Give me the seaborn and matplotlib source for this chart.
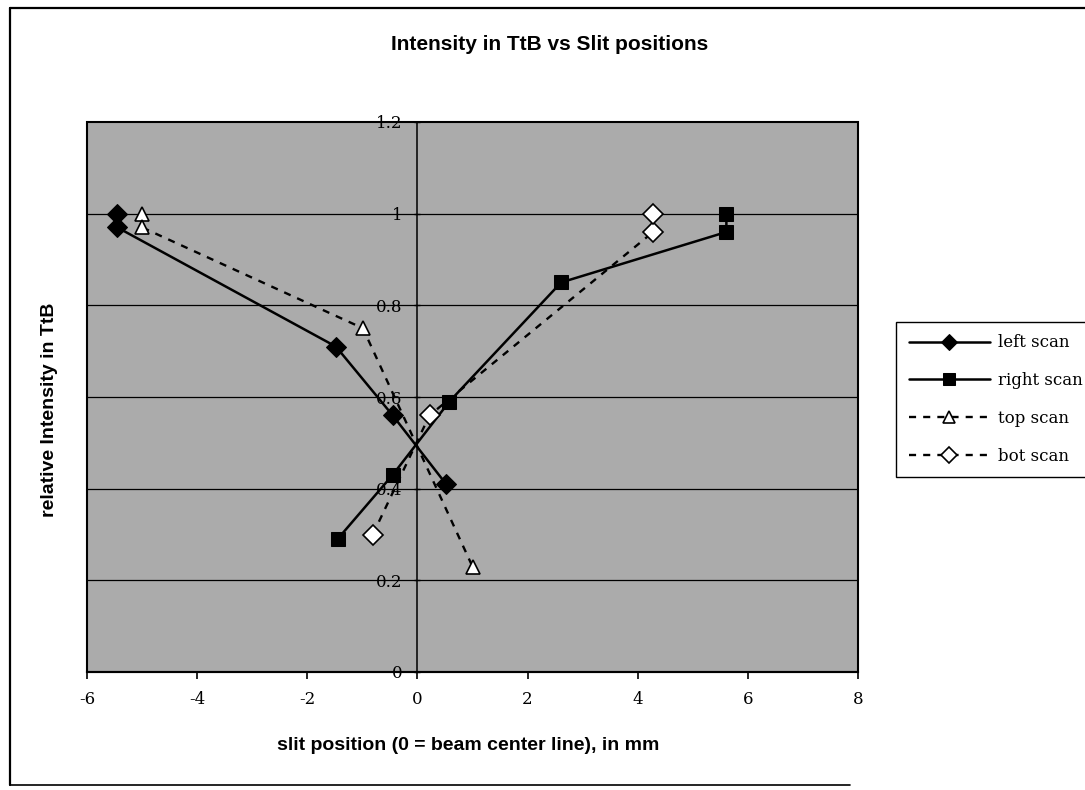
import matplotlib
matplotlib.use("Agg")
import matplotlib.pyplot as plt
import seaborn as sns
import pandas as pd
from matplotlib.patches import Rectangle
from matplotlib.lines import Line2D

# ---------------- data ----------------
left_x = [-5.45, -5.45, -1.48, -0.45, 0.52]
left_y = [1.00, 0.97, 0.71, 0.56, 0.41]

right_x = [-1.45, -0.45, 0.58, 2.61, 5.61, 5.61]
right_y = [0.29, 0.43, 0.59, 0.85, 0.96, 1.00]

top_x = [-5.00, -5.00, -0.99, 1.00]
top_y = [1.00, 0.97, 0.75, 0.23]

bot_x = [-0.81, 0.22, 4.28, 4.28]
bot_y = [0.30, 0.56, 0.96, 1.00]

series_names = ["left scan", "right scan", "top scan", "bot scan"]

x_ticks = [-6, -4, -2, 0, 2, 4, 6, 8]
x_tick_labels = ["-6", "-4", "-2", "0", "2", "4", "6", "8"]
y_ticks = [0, 0.2, 0.4, 0.6, 0.8, 1.0, 1.2]
y_tick_labels = ["0", "0.2", "0.4", "0.6", "0.8", "1", "1.2"]

title = "Intensity in TtB vs Slit positions"
x_label = "slit position (0 = beam center line), in mm"
y_label = "relative Intensity in TtB"

# ---------------- figure ----------------
sns.set_style("white")
plt.rcParams["font.family"] = ["DejaVu Sans"]
plt.rcParams["text.color"] = "black"
plt.rcParams["xtick.color"] = "black"
plt.rcParams["ytick.color"] = "black"

W, H = 1085, 790
def fx(px):
    return px / W
def fy(py):
    return 1 - py / H

fig = plt.figure(figsize=(W / 100, H / 100), dpi=100)
fig.patch.set_facecolor("white")
ax = fig.add_axes([fx(87), fy(672), (858 - 87) / W, (672 - 122) / H])
ax.set_facecolor("#ababab")

for yv in y_ticks[1:-1]:
    ax.axhline(yv, color="black", lw=0.9, zorder=1)

styles = [
    dict(x=left_x, y=left_y, marker="D", markersize=10, markerfacecolor="black",
         markeredgecolor="black", linestyle="-", lw=1.8),
    dict(x=right_x, y=right_y, marker="s", markersize=10.5, markerfacecolor="black",
         markeredgecolor="black", linestyle="-", lw=1.8),
    dict(x=top_x, y=top_y, marker="^", markersize=10, markerfacecolor="white",
         markeredgecolor="black", markeredgewidth=1.2, linestyle=(0, (3, 3)), lw=1.7),
    dict(x=bot_x, y=bot_y, marker="D", markersize=10, markerfacecolor="white",
         markeredgecolor="black", markeredgewidth=1.2, linestyle=(0, (3, 3)), lw=1.7),
]

for name, st in zip(series_names, styles):
    df = pd.DataFrame({"x": st.pop("x"), "y": st.pop("y")})
    sns.lineplot(data=df, x="x", y="y", ax=ax, sort=False, estimator=None,
                 color="black", label=name, zorder=3, **st)

ax.set_xlim(-6, 8)
ax.set_ylim(0, 1.2)
ax.set_xlabel("")
ax.set_ylabel("")

# move y axis to x = 0 first (this resets tick styling)
ax.spines["left"].set_position(("data", 0))
ax.spines["left"].set_linewidth(1.1)
ax.spines["left"].set_color("black")
ax.spines["bottom"].set_linewidth(1.5)
ax.spines["bottom"].set_color("black")
ax.spines["top"].set_visible(False)
ax.spines["right"].set_visible(False)
ax.add_patch(Rectangle((0, 0), 1, 1, transform=ax.transAxes, fill=False,
                       lw=1.5, ec="black", zorder=5, clip_on=False))

ax.set_xticks(x_ticks)
ax.set_xticklabels(x_tick_labels, fontfamily="DejaVu Serif", fontsize=12, color="black")
ax.set_yticks(y_ticks)
ax.set_yticklabels(y_tick_labels, fontfamily="DejaVu Serif", fontsize=12, color="black")

ax.tick_params(axis="x", direction="out", length=5, width=1.2, pad=9,
               colors="black", bottom=True)
ax.tick_params(axis="y", direction="inout", length=4, width=1.0, pad=9,
               colors="black", left=True)

leg_old = ax.get_legend()
handles, labels = ax.get_legend_handles_labels()
if leg_old is not None:
    leg_old.remove()

leg = fig.legend(handles, labels, loc="upper left",
                 bbox_to_anchor=(fx(896), fy(322)), bbox_transform=fig.transFigure,
                 borderaxespad=0, frameon=True, fancybox=False, edgecolor="black",
                 framealpha=1, prop={"family": "DejaVu Serif", "size": 12},
                 handlelength=4.9, handletextpad=0.5, labelspacing=1.25,
                 borderpad=0.75, markerscale=0.85)
leg.get_frame().set_linewidth(1.0)
for t in leg.get_texts():
    t.set_color("black")

fig.text(fx(550), fy(45), title, ha="center", va="center", fontsize=15,
         fontweight="bold", family="Liberation Sans", color="black")
fig.text(fx(468), fy(745), x_label, ha="center", va="center", fontsize=14,
         fontweight="bold", family="Liberation Sans", color="black")
fig.text(fx(50), fy(410), y_label, ha="center", va="center", fontsize=14,
         fontweight="bold", family="Liberation Sans", rotation=90, color="black")

# outer chart border (left, top, partial bottom)
fig.add_artist(Line2D([fx(10), fx(10)], [fy(8), fy(785)], color="black", lw=1.6,
                      transform=fig.transFigure))
fig.add_artist(Line2D([fx(10), fx(1085)], [fy(8), fy(8)], color="black", lw=1.6,
                      transform=fig.transFigure))
fig.add_artist(Line2D([fx(10), fx(850)], [fy(785), fy(785)], color="black", lw=1.2,
                      transform=fig.transFigure))

fig.savefig("out.png", dpi=100)
